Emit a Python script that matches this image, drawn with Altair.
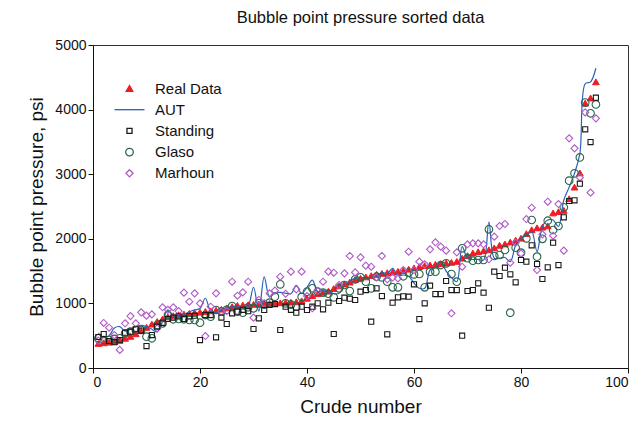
import altair as alt
import pandas as pd

crude = list(range(1, 95))
real = [380,390,400,410,430,460,490,530,580,630,680,720,760,790,810,825,835,845,855,865,
        875,885,895,910,930,950,970,975,980,985,990,995,1000,1005,1010,1015,1020,1025,1040,1080,
        1120,1150,1170,1190,1230,1270,1300,1330,1370,1390,1410,1430,1450,1465,1475,1485,1495,1510,1530,1550,
        1570,1585,1595,1605,1615,1625,1635,1650,1700,1740,1780,1800,1815,1830,1860,1900,1920,1950,1980,2010,
        2080,2140,2170,2180,2200,2400,2420,2440,2620,2800,3020,4100,4180,4430]
aut = [540,470,500,620,640,570,600,640,660,640,600,560,720,900,800,790,830,870,900,920,
       1080,880,860,900,920,950,960,930,960,1250,880,1410,1100,1160,1170,1160,1150,1280,1150,1250,
       1360,1180,1200,1180,1150,1156,1280,1350,1388,1400,1400,1400,1420,1480,1460,1543,1430,1440,1420,1315,
       1234,1234,1517,1560,1646,1500,1400,1336,1878,1700,1680,1680,1670,2260,1700,1700,1710,1645,1900,2000,
       2050,2110,1800,2190,2290,2290,2190,2600,2800,3013,3320,4400,4430,4640]
standing = [480,526,418,400,430,546,562,600,580,340,510,640,700,760,780,800,760,800,810,433,
            820,820,475,780,681,846,872,900,880,604,769,898,975,990,588,950,900,856,949,898,
            950,1001,908,1011,526,1037,1088,1073,1053,1181,1207,717,1233,1114,521,1011,1094,1110,1104,1295,
            758,1001,1274,1145,1145,1347,1207,1207,500,1192,1207,1311,1166,933,1491,1424,1553,1450,1326,1672,
            1646,1899,1610,1378,1559,1940,1594,2333,2585,2596,2853,3695,3498,4184]
glaso = [460,433,433,450,460,537,562,588,588,485,460,666,692,820,754,760,754,743,743,701,
         820,794,898,872,900,960,872,856,940,924,1001,980,1011,1104,1295,1001,980,949,1100,1181,
         1233,1181,1166,1150,1094,1233,1285,1192,1372,1403,1336,1233,1413,1403,1336,1249,1249,1420,1475,1450,
         1455,1249,1491,1491,1594,1620,1455,1336,1853,1700,1661,1672,1672,2147,1734,1749,1827,856,1862,1785,
         2007,2291,1723,2000,2280,2136,2198,2487,2900,3013,3260,4108,3943,4080]
marhoun = [423,697,624,510,280,692,804,692,862,810,831,614,940,900,940,882,1166,1026,1156,1001,
           495,949,1156,872,882,1336,1119,1171,1336,779,1053,1000,1156,1197,1413,1150,1491,1218,1491,1114,
           924,1192,1336,1491,1475,1285,1465,1734,1480,1713,1584,1568,1403,1734,1372,1400,1387,1517,1800,1517,
           1646,1605,1837,1946,1878,1816,847,1790,1568,1915,1930,1930,1915,1683,2033,2198,2229,1630,1940,1775,
           2306,2481,1517,2069,2574,2048,2538,1816,3555,3400,2950,3957,2714,3865]

series_names = ["Real Data", "AUT", "Standing", "Glaso", "Marhoun"]
colors = ["#f01c24", "#2a62b8", "#1a1a1a", "#2a6549", "#b15ac8"]
fills = ["#f01c24", "transparent", "transparent", "transparent", "transparent"]
shapes = ["triangle-up", "M-4,0L4,0", "square", "circle", "diamond"]
sizes = [45, 56, 26, 58, 50]

rows = []
for name, vals in zip(series_names, [real, aut, standing, glaso, marhoun]):
    for n, v in zip(crude, vals):
        rows.append({"crude": n, "p": v, "series": name})
df = pd.DataFrame(rows)

FONT = "Liberation Sans"

x = alt.X("crude:Q", title="Crude number",
          scale=alt.Scale(domain=[0, 100], nice=False),
          axis=alt.Axis(values=[0, 20, 40, 60, 80, 100]))
y = alt.Y("p:Q", title="Bubble point pressure, psi",
          scale=alt.Scale(domain=[0, 5000], nice=False),
          axis=alt.Axis(values=[0, 1000, 2000, 3000, 4000, 5000], format="d"))

color = alt.Color("series:N", scale=alt.Scale(domain=series_names, range=colors),
                  legend=alt.Legend(title=None, orient="none", legendX=29, legendY=36,
                                    labelFont=FONT, labelFontSize=15, labelColor="#111",
                                    rowPadding=5.2, labelOffset=18, padding=0,
                                    symbolStrokeWidth=1.3))
fill = alt.Fill("series:N", scale=alt.Scale(domain=series_names, range=fills), legend=None)
shape = alt.Shape("series:N", scale=alt.Scale(domain=series_names, range=shapes))
size = alt.Size("series:N", scale=alt.Scale(type="ordinal", domain=series_names, range=sizes))

base = alt.Chart(df)

real_pts = base.transform_filter(alt.datum.series == "Real Data").mark_point(
    filled=False, strokeWidth=1, opacity=1
).encode(x=x, y=y, color=color, fill=fill, shape=shape, size=size)

line = base.transform_filter(alt.datum.series == "AUT").mark_line(
    strokeWidth=1.2, interpolate="catmull-rom"
).encode(x=x, y=y, color=color)

other_pts = base.transform_filter(
    (alt.datum.series != "Real Data") & (alt.datum.series != "AUT")
).mark_point(filled=False, strokeWidth=1.1, opacity=1).encode(
    x=x, y=y, color=color, fill=fill, shape=shape, size=size, order=alt.Order("series:N")
)

chart = alt.layer(real_pts, line, other_pts).properties(
    width=535, height=323,
    title=alt.TitleParams("Bubble point pressure sorted data", font=FONT, fontSize=16.5,
                          fontWeight="normal", color="#111", offset=12),
    autosize=alt.AutoSizeParams(type="none"),
    padding={"left": 85, "top": 37, "right": 8, "bottom": 47},
).configure_view(
    stroke="#333", strokeWidth=1
).configure_axis(
    domainColor="#111", tickColor="#111", tickSize=5, grid=False,
    labelFont=FONT, labelFontSize=14, labelColor="#111",
    titleFont=FONT, titleFontSize=19, titleFontWeight="normal", titleColor="#111",
).configure_axisX(
    titlePadding=8
).configure_axisY(
    titlePadding=8
)

chart.save("out.html", embed_options={"renderer": "svg", "actions": False})
